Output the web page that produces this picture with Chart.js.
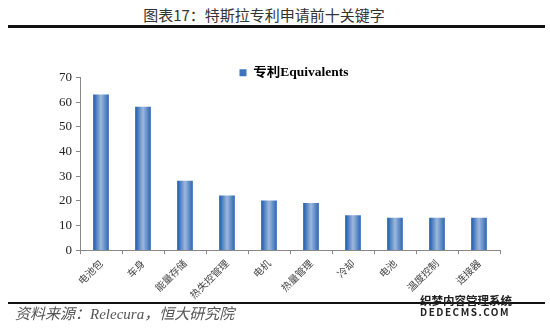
<!DOCTYPE html>
<html>
<head>
<meta charset="utf-8">
<script src="https://cdn.jsdelivr.net/npm/chart.js@4.4.0/dist/chart.umd.min.js"></script>
<style>
  body { margin: 0; background: #fff; }
  #wrap { position: relative; width: 550px; height: 328px; overflow: hidden; }
  #chartBox { position: absolute; left: 0; top: 0; width: 550px; height: 328px; }
  .title { position: absolute; top: 4px; left: 0; width: 528px; text-align: center;
           font-family: "Noto Sans CJK SC"; font-size: 15px; color: #333; }
  .rule { position: absolute; left: 8px; width: 537px; background: #111; }
  .source { position: absolute; left: 15px; top: 302px; font-family: "Liberation Serif", "Noto Sans CJK SC";
            font-style: italic; font-size: 15px; color: #555; }
  .wm { position: absolute; left: 420px; top: 294px; font-family: "Noto Sans CJK SC"; font-weight: bold;
        color: #222; line-height: 12px; }
</style>
</head>
<body>
<div id="wrap">
  <div class="title">图表17：特斯拉专利申请前十关键字</div>
  <div class="rule" style="top:25px;height:3px;"></div>
  <div id="chartBox"><canvas id="chart" width="550" height="328"></canvas></div>
  <div class="rule" style="top:302px;height:2px;"></div>
  <div class="source">资料来源：Relecura，恒大研究院</div>
  <div class="wm"><div style="font-size:11.5px;">织梦内容管理系统</div><div style="font-size:10px;letter-spacing:1.5px;">DEDECMS.COM</div></div>
</div>
<script>
// 关键字与专利数量
const keywords = ['电池包', '车身', '能量存储', '热失控管理', '电机', '热量管理', '冷却', '电池', '温度控制', '连接器'];
const patents = [63, 58, 28, 22, 20, 19, 14, 13, 13, 13];
const yTicks = [0, 10, 20, 30, 40, 50, 60, 70];

// 柱子的横向渐变（两边深蓝，中间浅）
function barGradient(context) {
    const chart = context.chart;
    const xs = chart.scales.x;
    if (!xs || context.dataIndex === undefined) return '#3f74bd';
    const cx = xs.getPixelForValue(context.dataIndex);
    const g = chart.ctx.createLinearGradient(cx - 7.5, 0, cx + 7.5, 0);
    g.addColorStop(0, '#205eb0');
    g.addColorStop(0.5, '#9db8dc');
    g.addColorStop(1, '#2f69b5');
    return g;
}

// 图例往下、往右挪一点，像原图那样贴近绘图区顶部
const legendShift = {
    id: 'legendShift',
    afterLayout(chart) {
        if (chart.legend) {
            chart.legend.top += 12;
            chart.legend.bottom += 12;
            chart.legend.left += 44;
            chart.legend.right += 44;
        }
    }
};

const ctx = document.getElementById('chart').getContext('2d');
const myChart = new Chart(ctx, {
    type: 'bar',
    data: {
        labels: keywords,
        datasets: [{
            label: '专利Equivalents',
            data: patents,
            backgroundColor: barGradient,
            borderWidth: 0,
            barThickness: 15
        }]
    },
    options: {
        responsive: false,
        animation: false,
        layout: { autoPadding: false, padding: { top: 54, right: 50, bottom: 24, left: 0 } },
        plugins: {
            tooltip: { enabled: false },
            legend: {
                display: true,
                labels: {
                    boxWidth: 7,
                    boxHeight: 7,
                    padding: 0,
                    color: '#111',
                    font: { family: '"Liberation Serif", "Noto Sans CJK SC"', size: 13.5, weight: 'bold' },
                    generateLabels: () => [{
                        text: '专利Equivalents',
                        fillStyle: '#3f74bd',
                        strokeStyle: '#3f74bd',
                        lineWidth: 0,
                        datasetIndex: 0
                    }]
                }
            }
        },
        scales: {
            x: {
                offset: true,
                border: { color: '#888', width: 1 },
                grid: { display: true, offset: true, drawOnChartArea: false, drawTicks: true, tickLength: 4, color: '#888' },
                ticks: {
                    maxRotation: 45, minRotation: 45, autoSkip: false,
                    color: '#444',
                    font: { family: '"Noto Sans CJK SC"', size: 10 }
                }
            },
            y: {
                min: 0, max: 70,
                afterFit: s => { s.width = 80; },
                afterBuildTicks: s => { s.ticks = yTicks.map(v => ({ value: v })); },
                border: { color: '#888', width: 1 },
                grid: { display: true, drawOnChartArea: false, drawTicks: true, tickLength: 4, color: '#888' },
                ticks: {
                    color: '#222', padding: 4,
                    font: { family: '"Liberation Serif"', size: 13 }
                }
            }
        }
    },
    plugins: [legendShift]
});
</script>
</body>
</html>
